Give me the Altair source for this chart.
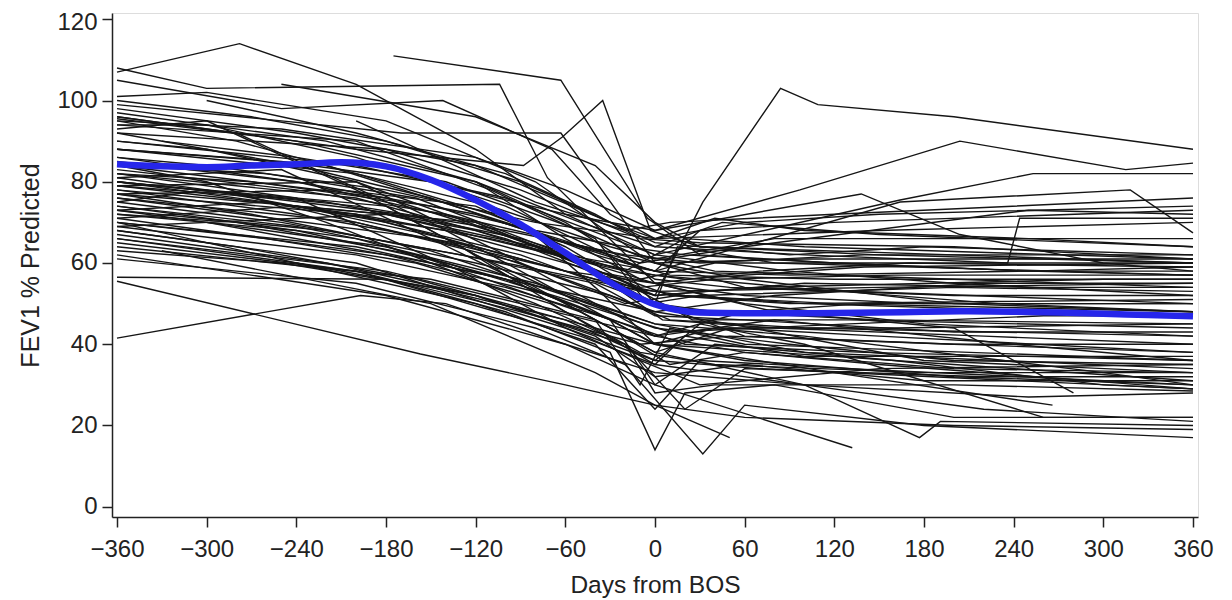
import altair as alt
import pandas as pd

# ---- data: each trajectory is [day, FEV1 %] pairs ----
high_start = [
    [[-360,107],[-278,114],[-200,104],[-120,88],[-60,72],[0,62],[90,58],[200,55],[360,52]],
    [[-175,111],[-63,105],[-5,71],[30,62],[120,60],[250,58],[360,57]],
    [[-360,108],[-300,103],[-104,104],[-72,81],[0,55],[60,50],[180,45],[360,42]],
    [[-360,105],[-250,98],[-142,100],[-69,88],[-30,72],[0,66],[40,71],[100,68],[250,66],[360,64]],
    [[-360,96],[-200,88],[-88,84],[-62,91],[-35,100],[-3,68],[30,64],[150,62],[360,60]],
    [[-360,99],[-250,95],[-170,92],[-63,92],[-20,70],[0,60],[60,56],[200,50],[360,48]],
    [[-360,95],[-250,93],[-120,86],[-60,78],[0,68],[97,78],[204,90],[315,83],[360,84.6]],
    [[-360,90],[-200,84],[-100,76],[0,62],[164,75.5],[253,82],[360,82]],
    [[-360,95.5],[-240,90],[-120,80],[-50,70],[0,64],[100,62],[236,60],[244,71],[360,71]],
    [[-360,100],[-270,96],[-180,90],[-90,80],[0,65],[90,62],[180,64],[360,62]],
    [[-360,98],[-240,92],[-120,84],[-30,70],[0,66],[60,70],[150,72],[360,74]],
    [[-360,94],[-300,94],[-200,86],[-100,74],[-20,60],[10,57],[120,56],[360,56]],
    [[-360,92],[-180,88],[-90,78],[-10,66],[30,65],[200,64],[360,61]],
    [[-360,95],[-280,90],[-200,82],[-110,72],[-40,62],[0,58],[90,57],[250,58],[360,58]],
    [[-360,92],[-240,84],[-150,76],[-70,66],[0,60],[100,61],[360,61]],
    [[-360,97],[-220,90],[-120,80],[-60,70],[0,56],[50,54],[200,52],[360,52]],
    [[-330,90],[-240,86],[-140,80],[-50,68],[0,60],[60,54],[360,50]],
    [[-300,100],[-200,92],[-100,82],[-40,72],[0,64],[45,70],[150,67],[360,64]],
    [[-250,104],[-120,96],[-40,84],[0,70],[30,64],[200,62],[360,60]],
    [[-360,101],[-300,102],[-180,95],[-80,80],[-10,62],[40,58],[200,56],[360,54]],
    [[-360,93],[-300,95],[-200,78],[-120,62],[-60,52],[0,45],[100,38],[360,34]],
    [[-360,96],[-280,92],[-150,70],[-80,56],[0,40],[60,36],[200,32],[360,30]],
    [[-360,94],[-200,90],[-110,78],[-40,66],[-5,50],[30,52],[200,54],[360,53]],
    [[-200,95],[-140,85],[-80,75],[-20,68],[10,70],[120,72],[360,76]],
    [[-360,88],[-220,84],[-100,70],[-30,62],[0,50],[15,64],[80,60],[360,57]],
]

mid_start = [
    [[-360,80],[-200,72],[-60,58],[0,52],[32,75],[84,103],[109,99],[200,96],[360,88]],
    [[-360,86],[-240,80],[-120,72],[0,58],[164,75],[318,78],[360,67.4]],
    [[-360,88],[-250,85],[-150,80],[-60,72],[0,68],[138,77],[204,67],[300,60],[360,58]],
    [[-360,85],[-240,80],[-120,70],[-40,58],[0,55],[60,52],[180,50],[360,50]],
    [[-360,84],[-260,82],[-160,76],[-60,62],[0,50],[40,48],[150,46],[360,45]],
    [[-360,82],[-200,76],[-100,66],[-30,56],[0,52],[100,55],[250,54],[360,54]],
    [[-360,81],[-300,78],[-180,70],[-90,62],[0,50],[60,42],[200,40],[360,38]],
    [[-360,80],[-220,75],[-120,68],[-50,60],[5,46],[80,44],[220,42],[360,40]],
    [[-360,79],[-240,74],[-140,66],[-60,56],[0,48],[50,45],[180,36],[360,33]],
    [[-360,78],[-180,72],[-80,64],[0,55],[70,58],[170,60],[360,59]],
    [[-360,77],[-270,72],[-150,63],[-60,52],[0,44],[90,40],[200,36],[360,35]],
    [[-360,76],[-200,70],[-90,60],[-20,50],[15,52],[120,50],[360,48]],
    [[-360,75],[-250,70],[-130,62],[-40,55],[0,47],[60,46],[200,43],[360,43]],
    [[-360,74],[-200,66],[-100,56],[-30,46],[0,40],[80,38],[200,35],[360,31]],
    [[-360,73],[-300,70],[-180,64],[-80,55],[0,45],[100,42],[300,33],[360,30]],
    [[-360,72],[-240,68],[-140,60],[-50,50],[10,43],[130,45],[260,47],[360,47]],
    [[-360,71],[-180,62],[-70,52],[0,42],[60,38],[150,35],[360,29]],
    [[-360,70],[-260,66],[-160,60],[-70,50],[-10,38],[40,35],[180,33],[360,33]],
    [[-360,69],[-200,62],[-100,54],[-20,45],[20,40],[140,38],[360,36]],
    [[-360,68],[-280,64],[-160,56],[-60,46],[0,36],[70,34],[360,29]],
    [[-360,88],[-200,82],[-110,74],[-30,64],[0,61],[80,66],[200,66],[360,66]],
    [[-360,86],[-300,84],[-180,78],[-80,70],[0,66],[150,68],[360,70]],
    [[-360,83],[-240,78],[-140,72],[-70,66],[-10,60],[60,64],[250,73],[360,72]],
    [[-360,80],[-200,74],[-100,68],[-20,62],[30,60],[140,62],[360,62]],
    [[-360,90],[-300,88],[-200,80],[-80,64],[-10,54],[40,56],[160,57],[360,57]],
    [[-360,78],[-240,72],[-120,64],[-40,56],[0,53],[150,54],[360,55]],
    [[-360,76],[-150,66],[-60,58],[0,55],[80,48],[200,44],[280,28]],
    [[-360,74],[-240,69],[-120,60],[-30,52],[10,46],[100,44],[360,42]],
    [[-360,84],[-180,76],[-60,62],[0,58],[30,68],[120,70],[360,73]],
    [[-360,82],[-270,80],[-150,74],[-80,68],[-20,64],[20,62],[120,60],[250,58],[360,59]],
    [[-360,73],[-220,68],[-100,60],[-20,54],[20,52],[100,50],[360,47]],
    [[-300,70],[-150,60],[-50,52],[0,48],[80,52],[220,55],[360,55]],
    [[-360,79],[-260,76],[-170,72],[-90,66],[-20,58],[20,56],[140,59],[360,60]],
    [[-360,77],[-200,72],[-110,66],[-40,60],[0,57],[90,54],[230,50],[360,48]],
    [[-360,81],[-250,83],[-150,66],[-60,50],[0,38],[50,44],[150,42],[360,38]],
    [[-360,79],[-200,80],[-100,62],[-30,48],[0,42],[80,46],[240,40],[360,36]],
    [[-360,75],[-300,78],[-180,74],[-100,58],[-30,44],[10,35],[60,38],[200,34],[360,33]],
    [[-360,71],[-240,74],[-120,70],[-50,60],[0,52],[70,54],[300,56],[360,56]],
    [[-360,69],[-180,72],[-90,64],[-20,58],[20,66],[100,64],[360,61]],
    [[-360,82],[-240,76],[-130,58],[-60,44],[-10,36],[30,30],[150,34],[360,35]],
    [[-120,80],[-60,66],[-10,56],[40,60],[200,60],[360,60]],
    [[-90,70],[-40,54],[0,40],[40,44],[160,44],[360,45]],
    [[-360,77],[-210,78],[-120,74],[-60,64],[-5,52],[25,46],[130,46],[360,44]],
    [[-360,73],[-260,75],[-140,68],[-80,62],[-20,56],[10,52],[90,50],[360,51]],
    [[-360,80],[-280,77],[-200,70],[-130,64],[-60,48],[0,35],[20,42],[100,37],[360,37]],
    [[-360,84],[-300,80],[-220,70],[-150,60],[-80,50],[-20,40],[20,24],[60,34],[220,32],[360,32]],
]

low_start = [
    [[-360,55.5],[-157,37.6],[-60,30],[0,25],[60,22],[200,20],[360,19]],
    [[-360,41.5],[-197,52],[-140,50],[-60,40],[0,33],[100,30],[250,27],[360,28]],
    [[-360,56.5],[-180,56],[-100,48],[-30,38],[0,14],[20,28],[80,30],[200,22],[360,22]],
    [[-360,61],[-200,55],[-80,44],[-20,35],[32,13],[60,25],[180,20],[360,17]],
    [[-330,63],[-150,50],[-40,33],[0,25],[50,17]],
    [[-360,62],[-180,52],[-60,40],[0,30],[132,14.5]],
    [[-360,65],[-200,58],[-50,42],[0,35],[100,30],[177,17],[191,21],[360,20]],
    [[-360,67],[-220,60],[-120,52],[-40,42],[0,32],[60,35],[180,31],[360,31]],
    [[-360,66],[-200,58],[-90,48],[-10,40],[50,42],[200,40],[360,40]],
    [[-360,63],[-250,60],[-150,54],[-60,46],[0,40],[120,33],[266,25]],
    [[-360,72],[-280,70],[-160,62],[-50,48],[0,38],[100,30],[220,24],[360,21]],
    [[-360,70],[-200,64],[-100,56],[-30,46],[0,30],[40,40],[160,36],[300,30],[360,29]],
    [[-360,68],[-200,60],[-60,44],[0,36],[30,45],[100,40],[260,22],[360,22]],
    [[-360,66],[-180,58],[-90,50],[0,42],[60,48],[140,50],[360,50]],
    [[-240,60],[-120,52],[-20,40],[0,28],[40,30],[200,30],[360,28.5]],
    [[-360,70],[-240,60],[-120,50],[-40,40],[0,24],[30,36],[130,34],[360,30]],
    [[-360,64],[-150,56],[-40,46],[-10,30],[10,44],[60,40],[360,36]],
]

# smoothed mean curve (blue)
smooth_days = [-360, -330, -300, -270, -240, -210, -180, -150, -120, -90, -60, -30,
               0, 30, 60, 90, 120, 150, 180, 210, 240, 270, 300, 330, 360]
smooth_fev = [84.3, 83.8, 83.6, 84.0, 84.3, 84.8, 83.8, 80.5, 75.5, 69.5, 62.5, 55.2,
              49.8, 47.8, 47.6, 47.6, 47.7, 47.8, 48.0, 48.1, 48.0, 47.8, 47.5, 47.2, 46.9]

x_ticks = [-360, -300, -240, -180, -120, -60, 0, 60, 120, 180, 240, 300, 360]
y_ticks = [0, 20, 40, 60, 80, 100, 120]

rows = []
for gname, group in [("h", high_start), ("m", mid_start), ("l", low_start)]:
    for i, traj in enumerate(group):
        for d, v in traj:
            rows.append({"pid": f"{gname}{i}", "day": d, "fev": v})
df = pd.DataFrame(rows)
smooth = pd.DataFrame({"day": smooth_days, "fev": smooth_fev})

FONT = "Liberation Sans"
xscale = alt.Scale(domain=[-363.35, 363.35], nice=False, zero=False)
yscale = alt.Scale(domain=[-2.54, 121.55], nice=False, zero=False)

xaxis = alt.Axis(values=x_ticks, title="Days from BOS", grid=False, format="d",
                 tickSize=10, tickWidth=1.5, tickColor="#222", domainColor="#222",
                 domainWidth=1.5, labelFont=FONT, labelFontSize=24, labelColor="#222",
                 labelPadding=10, titleFont=FONT, titleFontSize=24.5, titleFontWeight="normal",
                 titleColor="#222", titlePadding=12)
yaxis = alt.Axis(values=y_ticks, title="FEV1 % Predicted", grid=False, format="d",
                 tickSize=10, tickWidth=1.5, tickColor="#222", domainColor="#222",
                 domainWidth=1.5, labelFont=FONT, labelFontSize=24, labelColor="#222",
                 labelPadding=5,
                 labelOffset={"condition": {"test": "datum.value == 120", "value": 3}, "value": 0},
                 titleFont=FONT, titleFontSize=25, titleFontWeight="normal",
                 titleColor="#222", titlePadding=13)

lines = alt.Chart(df).mark_line(color="#151515", strokeWidth=1.4, clip=True).encode(
    x=alt.X("day:Q", scale=xscale, axis=xaxis),
    y=alt.Y("fev:Q", scale=yscale, axis=yaxis),
    detail="pid:N",
    order="day:Q",
)

blue = alt.Chart(smooth).mark_line(color="#2626ea", strokeWidth=6.5, interpolate="monotone",
                                   clip=True).encode(
    x=alt.X("day:Q", scale=xscale),
    y=alt.Y("fev:Q", scale=yscale),
    order="day:Q",
)

chart = alt.layer(lines, blue).properties(
    width=1086, height=504,
    autosize=alt.AutoSizeParams(type="none"),
    padding={"left": 104, "top": 5, "right": 20, "bottom": 82},
).configure_view(stroke="#222", strokeWidth=1.5).configure(background="white")

chart.save("out.html", embed_options={"renderer": "svg", "actions": False})
